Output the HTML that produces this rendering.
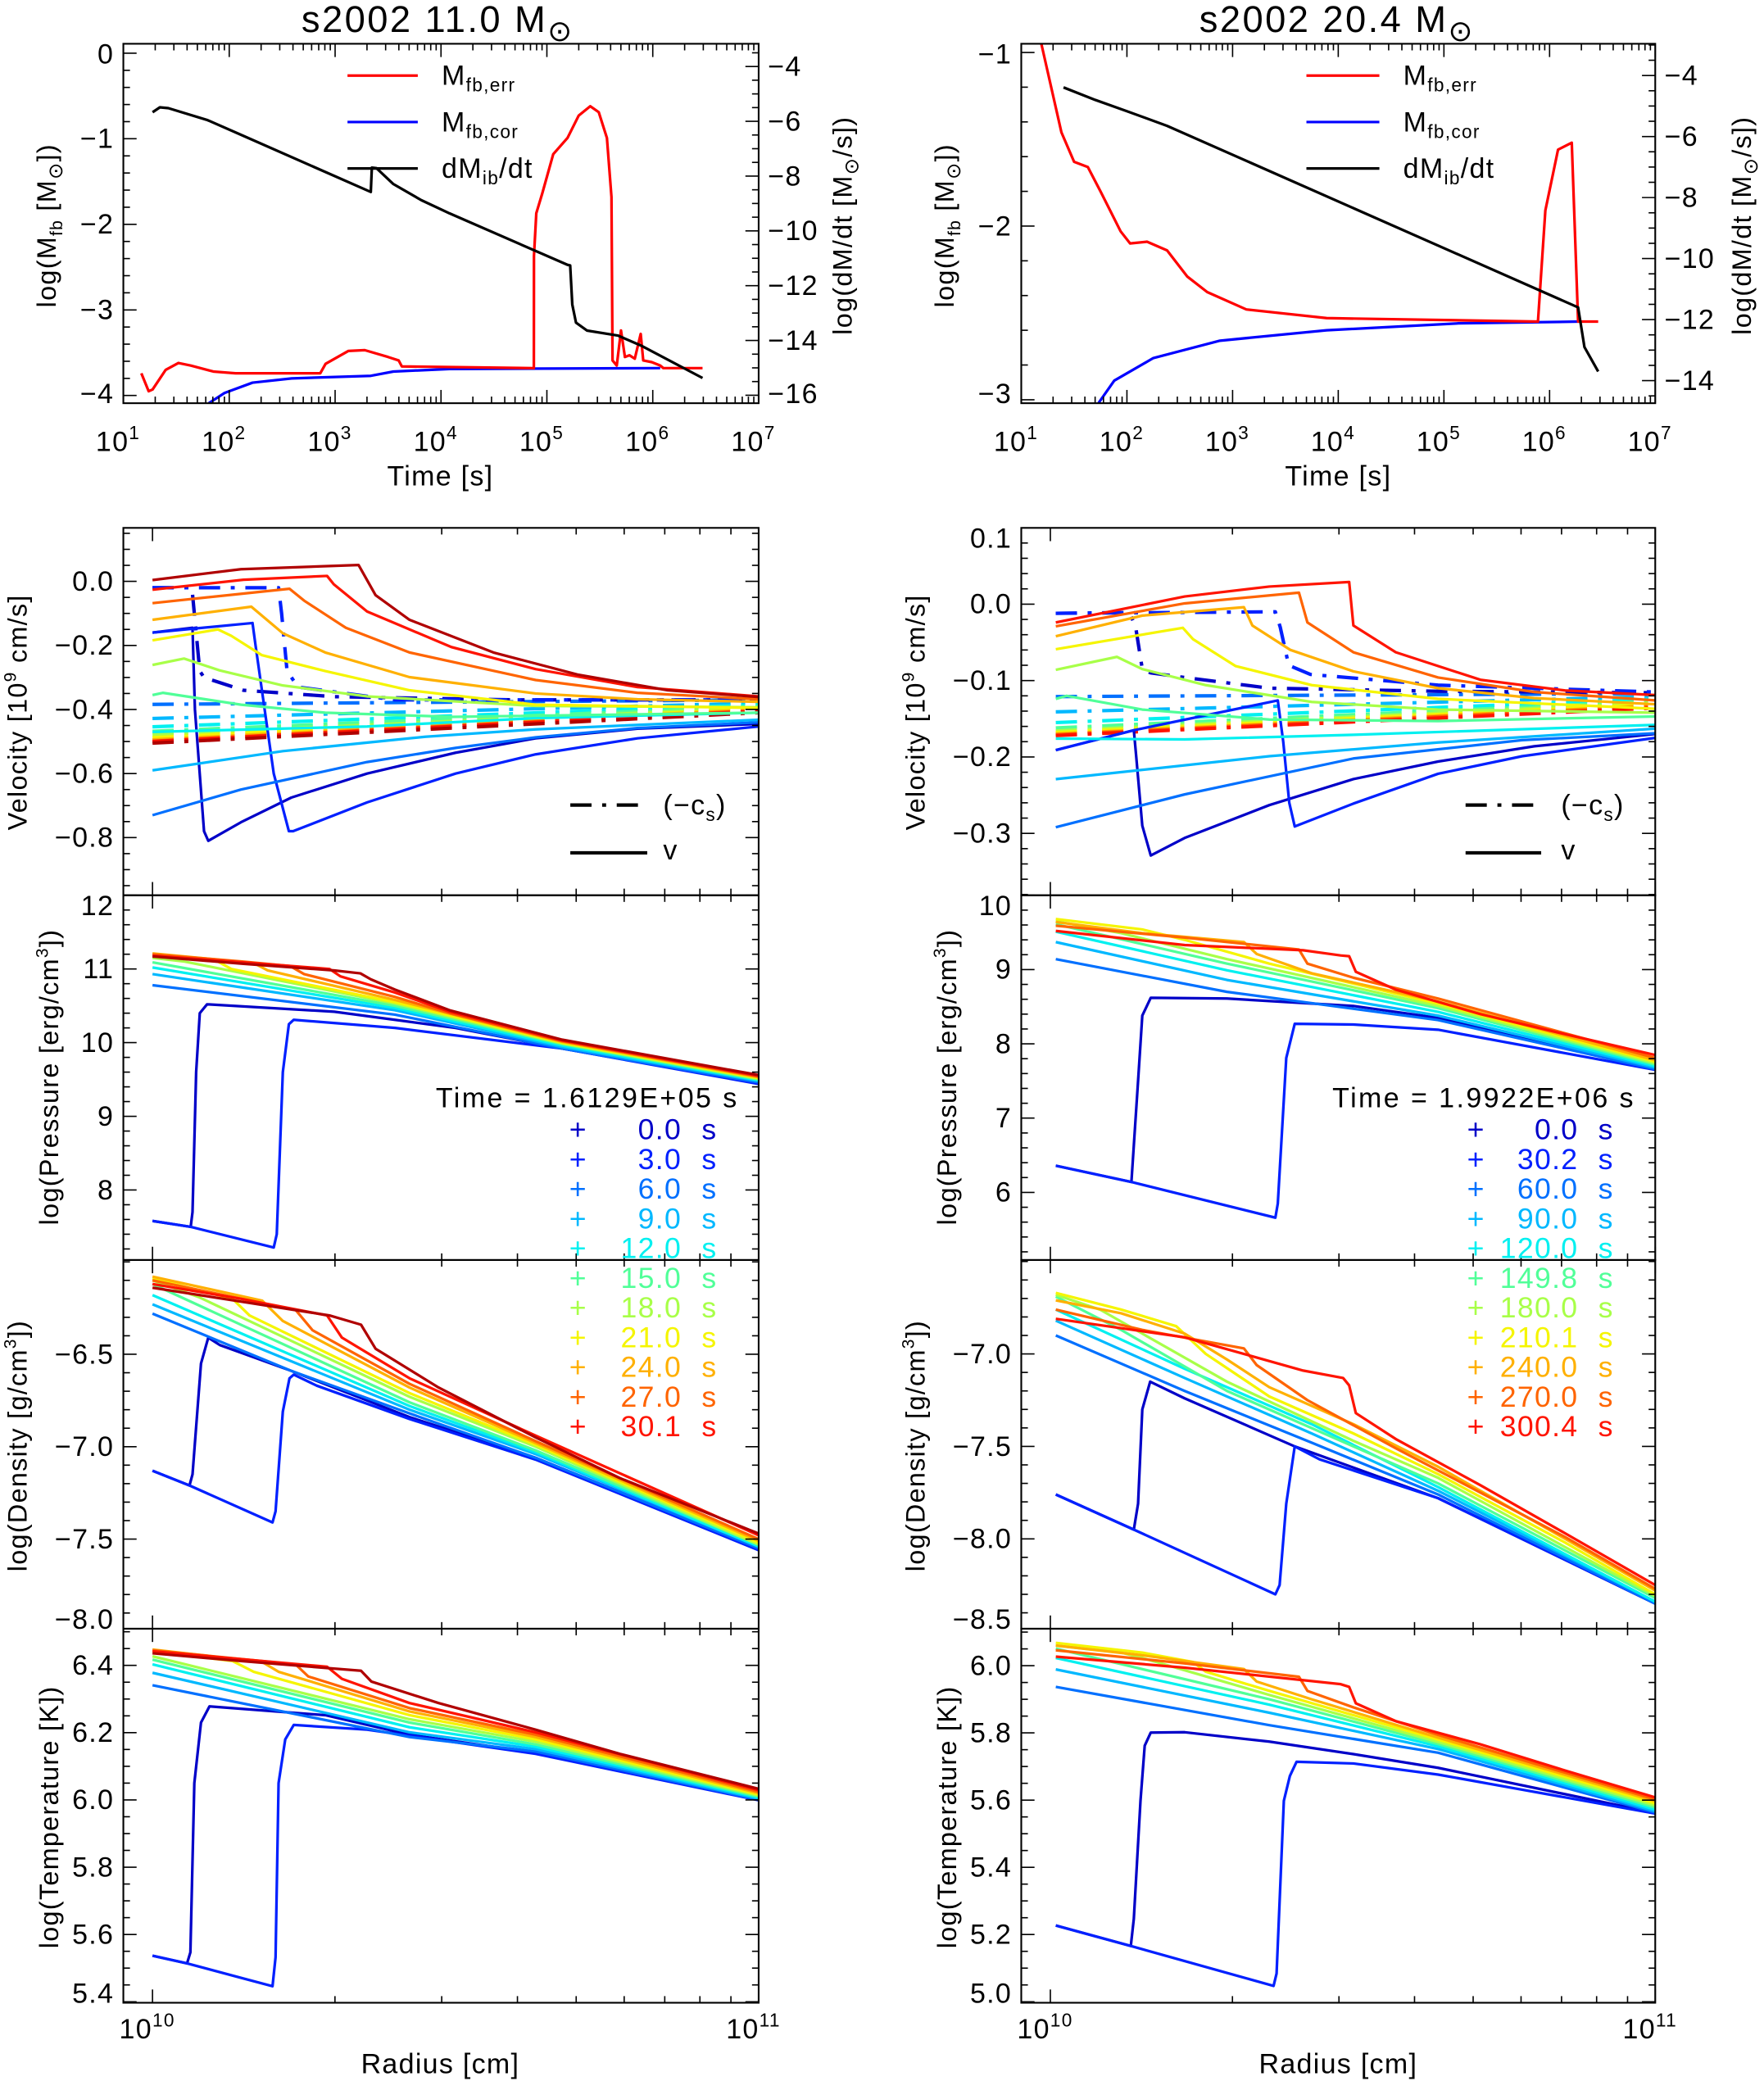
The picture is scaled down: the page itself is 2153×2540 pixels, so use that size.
<!DOCTYPE html>
<html><head><meta charset="utf-8"><style>
html,body{margin:0;padding:0;background:#fff;}
svg{display:block;}
text{font-family:"Liberation Sans","DejaVu Sans",sans-serif;fill:#000;letter-spacing:0.8px;}
</style></head><body>
<svg id="chart" xmlns="http://www.w3.org/2000/svg" width="2153" height="2540" viewBox="0 0 1330 1569" preserveAspectRatio="none">
<rect x="0" y="0" width="1330" height="1569" fill="#fff"/>
<text x="330" y="24" font-size="28" text-anchor="middle" style="letter-spacing:1.5px">s2002  11.0  M<tspan dy="7" font-size="22">⊙</tspan></text>
<text x="1008" y="24" font-size="28" text-anchor="middle" style="letter-spacing:1.5px">s2002  20.4  M<tspan dy="7" font-size="22">⊙</tspan></text>
<text transform="translate(42,170) rotate(-90)" font-size="20" text-anchor="middle">log(M<tspan dy="5" font-size="13">fb</tspan><tspan dy="-5">  [M</tspan><tspan dy="5" font-size="15">⊙</tspan><tspan dy="-5">])</tspan></text>
<text transform="translate(642,170) rotate(-90)" font-size="20" text-anchor="middle">log(dM/dt  [M<tspan dy="5" font-size="15">⊙</tspan><tspan dy="-5">/s])</tspan></text>
<text transform="translate(719,170) rotate(-90)" font-size="20" text-anchor="middle">log(M<tspan dy="5" font-size="13">fb</tspan><tspan dy="-5">  [M</tspan><tspan dy="5" font-size="15">⊙</tspan><tspan dy="-5">])</tspan></text>
<text transform="translate(1320,170) rotate(-90)" font-size="20" text-anchor="middle">log(dM/dt  [M<tspan dy="5" font-size="15">⊙</tspan><tspan dy="-5">/s])</tspan></text>
<text x="332" y="366" font-size="21" text-anchor="middle">Time [s]</text>
<text x="1009" y="366" font-size="21" text-anchor="middle">Time [s]</text>
<text transform="translate(20,537) rotate(-90)" font-size="20" text-anchor="middle">Velocity  [10<tspan dy="-8" font-size="13">9</tspan><tspan dy="8"> cm/s]</tspan></text>
<text transform="translate(697,537) rotate(-90)" font-size="20" text-anchor="middle">Velocity  [10<tspan dy="-8" font-size="13">9</tspan><tspan dy="8"> cm/s]</tspan></text>
<text transform="translate(44,812) rotate(-90)" font-size="20" text-anchor="middle">log(Pressure  [erg/cm<tspan dy="-8" font-size="13">3</tspan><tspan dy="8">])</tspan></text>
<text transform="translate(721,812) rotate(-90)" font-size="20" text-anchor="middle">log(Pressure  [erg/cm<tspan dy="-8" font-size="13">3</tspan><tspan dy="8">])</tspan></text>
<text transform="translate(20,1090) rotate(-90)" font-size="20" text-anchor="middle">log(Density  [g/cm<tspan dy="-8" font-size="13">3</tspan><tspan dy="8">])</tspan></text>
<text transform="translate(697,1090) rotate(-90)" font-size="20" text-anchor="middle">log(Density  [g/cm<tspan dy="-8" font-size="13">3</tspan><tspan dy="8">])</tspan></text>
<text transform="translate(44,1370) rotate(-90)" font-size="20" text-anchor="middle">log(Temperature  [K])</text>
<text transform="translate(721,1370) rotate(-90)" font-size="20" text-anchor="middle">log(Temperature  [K])</text>
<text x="332" y="1563" font-size="21" text-anchor="middle">Radius [cm]</text>
<text x="1009" y="1563" font-size="21" text-anchor="middle">Radius [cm]</text>
<line x1="262" y1="57" x2="315" y2="57" stroke="#ff0000" stroke-width="2"/>
<text x="333" y="64" font-size="21">M<tspan dy="5" font-size="14">fb,err</tspan></text>
<line x1="262" y1="92" x2="315" y2="92" stroke="#0000ff" stroke-width="2"/>
<text x="333" y="99" font-size="21">M<tspan dy="5" font-size="14">fb,cor</tspan></text>
<line x1="262" y1="127" x2="315" y2="127" stroke="#000" stroke-width="2"/>
<text x="333" y="134" font-size="21">dM<tspan dy="5" font-size="14">ib</tspan><tspan dy="-5">/dt</tspan></text>
<line x1="985" y1="57" x2="1040" y2="57" stroke="#ff0000" stroke-width="2"/>
<text x="1058" y="64" font-size="21">M<tspan dy="5" font-size="14">fb,err</tspan></text>
<line x1="985" y1="92" x2="1040" y2="92" stroke="#0000ff" stroke-width="2"/>
<text x="1058" y="99" font-size="21">M<tspan dy="5" font-size="14">fb,cor</tspan></text>
<line x1="985" y1="127" x2="1040" y2="127" stroke="#000" stroke-width="2"/>
<text x="1058" y="134" font-size="21">dM<tspan dy="5" font-size="14">ib</tspan><tspan dy="-5">/dt</tspan></text>
<line x1="430" y1="607" x2="488" y2="607" stroke="#000" stroke-width="2.6" stroke-dasharray="16,8,3,8"/>
<text x="500" y="614" font-size="21">(−c<tspan dy="5" font-size="14">s</tspan><tspan dy="-5">)</tspan></text>
<line x1="430" y1="643" x2="488" y2="643" stroke="#000" stroke-width="2.6"/>
<text x="500" y="648" font-size="21">v</text>
<line x1="1105" y1="607" x2="1162" y2="607" stroke="#000" stroke-width="2.6" stroke-dasharray="16,8,3,8"/>
<text x="1177" y="614" font-size="21">(−c<tspan dy="5" font-size="14">s</tspan><tspan dy="-5">)</tspan></text>
<line x1="1105" y1="643" x2="1162" y2="643" stroke="#000" stroke-width="2.6"/>
<text x="1177" y="648" font-size="21">v</text>
<text x="557" y="835" font-size="21" text-anchor="end" style="letter-spacing:1.5px">Time  =  1.6129E+05  s</text>
<text x="1233" y="835" font-size="21" text-anchor="end" style="letter-spacing:1.5px">Time  =  1.9922E+06  s</text>
</svg>
<script>
const tlErrT=[1.17,1.239,1.276,1.40,1.52,1.637,1.85,2.06,2.86,2.91,3.124,3.28,3.50,3.60,3.63,4.877,4.878,4.90,4.956,5.06,5.195,5.30,5.41,5.49,5.567,5.61,5.62,5.66,5.70,5.737,5.78,5.83,5.886,5.91,5.99,6.07,6.10,6.47];
const tlErrM=[-3.74,-3.95,-3.93,-3.70,-3.62,-3.65,-3.72,-3.74,-3.74,-3.63,-3.48,-3.47,-3.55,-3.59,-3.66,-3.68,-2.37,-1.87,-1.64,-1.18,-0.99,-0.73,-0.62,-0.69,-0.99,-1.68,-3.59,-3.65,-3.24,-3.55,-3.53,-3.57,-3.28,-3.59,-3.61,-3.65,-3.68,-3.68];
const tlCorT=[1.807,1.956,2.22,2.59,3.337,3.55,4.08,6.07];
const tlCorM=[-4.09,-3.97,-3.85,-3.80,-3.77,-3.72,-3.69,-3.68];
const tlRateT=[1.276,1.345,1.425,1.797,2.115,3.337,3.347,3.39,3.55,3.815,4.08,5.195,5.22,5.24,5.275,5.38,5.67,5.886,6.47];
const tlRateV=[-5.67,-5.49,-5.52,-5.96,-6.50,-8.58,-7.69,-7.71,-8.29,-8.88,-9.36,-11.24,-11.26,-12.69,-13.35,-13.64,-13.82,-14.18,-15.37];
const trErrT=[1.19,1.38,1.50,1.63,1.75,1.94,2.03,2.19,2.38,2.57,2.76,3.13,3.89,5.89,5.96,6.08,6.21,6.27,6.46];
const trErrM=[-0.95,-1.46,-1.63,-1.66,-1.80,-2.03,-2.10,-2.09,-2.14,-2.29,-2.38,-2.48,-2.53,-2.55,-1.91,-1.56,-1.52,-2.55,-2.55];
const trCorT=[1.73,1.88,2.25,2.88,3.89,5.14,6.27];
const trCorM=[-3.02,-2.89,-2.76,-2.66,-2.60,-2.56,-2.55];
const trRateT=[1.40,1.7,2.0,2.38,6.27,6.33,6.46];
const trRateV=[-4.39,-4.8,-5.17,-5.65,-11.6,-12.9,-13.7];
const timeDecades=[1,2,3,4,5,6,7];
const tlLeftTicks=[0,-1,-2,-3,-4];
const tlRightTicks=[-4,-6,-8,-10,-12,-14,-16];
const trLeftTicks=[-1,-2,-3];
const trRightTicks=[-4,-6,-8,-10,-12,-14];
const keysL=['J1','J2','B','LB','C','G','YG','Y','OY','O','R','DR'];
const keysR=['J1','J2','B','LB','C','G','YG','Y','OY','O','R'];
const velL=[
 [[0,-0.16],[0.066,-0.145],[0.07,-0.4],[0.085,-0.78],[0.092,-0.81],[0.146,-0.752],[0.229,-0.675],[0.354,-0.6],[0.5,-0.535],[0.632,-0.49],[0.8,-0.46],[1.0,-0.445]],
 [[0,-0.16],[0.165,-0.13],[0.17,-0.2],[0.2,-0.6],[0.225,-0.78],[0.232,-0.78],[0.354,-0.69],[0.5,-0.6],[0.632,-0.54],[0.8,-0.49],[1.0,-0.453]],
 [[0,-0.73],[0.146,-0.65],[0.354,-0.564],[0.5,-0.52],[0.632,-0.487],[0.8,-0.458],[1.0,-0.44]],
 [[0,-0.59],[0.215,-0.53],[0.45,-0.485],[0.632,-0.462],[1.0,-0.432]],
 [[0,-0.47],[0.354,-0.453],[0.632,-0.427],[1.0,-0.41]],
 [[0,-0.355],[0.017,-0.348],[0.146,-0.385],[0.285,-0.41],[0.493,-0.423],[1.0,-0.41]],
 [[0,-0.261],[0.052,-0.241],[0.111,-0.278],[0.215,-0.325],[0.354,-0.359],[0.632,-0.389],[1.0,-0.393]],
 [[0,-0.184],[0.108,-0.15],[0.13,-0.17],[0.18,-0.23],[0.285,-0.28],[0.424,-0.34],[0.632,-0.385],[1.0,-0.395]],
 [[0,-0.12],[0.163,-0.079],[0.215,-0.162],[0.285,-0.222],[0.424,-0.299],[0.632,-0.35],[0.8,-0.368],[1.0,-0.376]],
 [[0,-0.068],[0.226,-0.023],[0.25,-0.06],[0.319,-0.145],[0.424,-0.222],[0.632,-0.308],[0.8,-0.348],[1.0,-0.368]],
 [[0,-0.026],[0.15,0.005],[0.288,0.017],[0.299,-0.009],[0.354,-0.094],[0.493,-0.205],[0.632,-0.274],[0.8,-0.33],[1.0,-0.359]],
 [[0,0.004],[0.146,0.038],[0.34,0.051],[0.368,-0.043],[0.424,-0.12],[0.5625,-0.222],[0.701,-0.291],[0.85,-0.34],[1.0,-0.361]]
];
const velR=[
 [[0.009,-0.191],[0.138,-0.165],[0.142,-0.2],[0.152,-0.29],[0.166,-0.329],[0.222,-0.306],[0.362,-0.263],[0.501,-0.229],[0.641,-0.206],[0.8,-0.186],[1.0,-0.170]],
 [[0.009,-0.191],[0.138,-0.165],[0.376,-0.126],[0.385,-0.18],[0.395,-0.26],[0.404,-0.291],[0.501,-0.261],[0.641,-0.222],[0.78,-0.199],[1.0,-0.175]],
 [[0.009,-0.292],[0.222,-0.249],[0.501,-0.202],[0.78,-0.178],[1.0,-0.169]],
 [[0.009,-0.229],[0.362,-0.199],[0.641,-0.181],[1.0,-0.163]],
 [[0.009,-0.176],[0.222,-0.177],[0.501,-0.171],[1.0,-0.158]],
 [[0.009,-0.124],[0.027,-0.12],[0.152,-0.138],[0.362,-0.151],[0.641,-0.153],[1.0,-0.147]],
 [[0.009,-0.086],[0.11,-0.069],[0.152,-0.085],[0.257,-0.106],[0.432,-0.128],[0.641,-0.138],[1.0,-0.142]],
 [[0.009,-0.059],[0.219,-0.031],[0.236,-0.046],[0.306,-0.081],[0.432,-0.106],[0.641,-0.124],[1.0,-0.137]],
 [[0.009,-0.042],[0.152,-0.015],[0.32,-0.004],[0.334,-0.028],[0.397,-0.06],[0.501,-0.088],[0.641,-0.11],[0.8,-0.123],[1.0,-0.131]],
 [[0.009,-0.029],[0.222,0.001],[0.411,0.015],[0.425,-0.024],[0.501,-0.063],[0.641,-0.096],[0.8,-0.115],[1.0,-0.126]],
 [[0.009,-0.024],[0.222,0.010],[0.362,0.023],[0.494,0.029],[0.501,-0.028],[0.571,-0.063],[0.711,-0.099],[0.851,-0.113],[1.0,-0.119]]
];
const csL1=[[0,-0.02],[0.065,-0.02],[0.07,-0.12],[0.078,-0.28],[0.085,-0.3],[0.15,-0.34],[0.3,-0.36],[0.6,-0.37],[1.0,-0.37]];
const csL2=[[0,-0.02],[0.208,-0.02],[0.213,-0.1],[0.222,-0.28],[0.24,-0.33],[0.4,-0.37],[1.0,-0.37]];
const csR1=[[0.009,-0.012],[0.131,-0.011],[0.141,-0.03],[0.152,-0.085],[0.166,-0.09],[0.222,-0.096],[0.362,-0.11],[0.641,-0.114],[1.0,-0.116]];
const csR2=[[0.009,-0.012],[0.372,-0.01],[0.38,-0.03],[0.394,-0.08],[0.43,-0.092],[0.641,-0.106],[1.0,-0.115]];
const csKeysL=['B','LB','C','G','YG','Y','OY','O','R','DR'];
const csStartL=[-0.384,-0.428,-0.454,-0.468,-0.478,-0.488,-0.495,-0.499,-0.500,-0.505];
const csEndL=[-0.37,-0.38,-0.385,-0.39,-0.395,-0.398,-0.40,-0.403,-0.405,-0.41];
const csKeysR=['B','LB','C','G','YG','Y','OY','O','R'];
const csStartR=[-0.121,-0.141,-0.155,-0.162,-0.166,-0.168,-0.170,-0.171,-0.172];
const csEndR=[-0.117,-0.121,-0.124,-0.127,-0.129,-0.131,-0.133,-0.134,-0.136];
const presL=[
 [[0,7.58],[0.063,7.5],[0.066,7.7],[0.072,9.6],[0.078,10.4],[0.09,10.52],[0.3,10.42],[0.5,10.2],[0.676,9.92],[1.0,9.45]],
 [[0,7.58],[0.063,7.5],[0.20,7.22],[0.205,7.4],[0.215,9.6],[0.225,10.25],[0.233,10.31],[0.4,10.2],[0.676,9.92],[1.0,9.44]],
 [[0,10.78],[0.4,10.38],[0.676,9.92],[1.0,9.46]],
 [[0,10.93],[0.4,10.44],[0.676,9.94],[1.0,9.48]],
 [[0,11.02],[0.4,10.47],[0.676,9.96],[1.0,9.49]],
 [[0,11.09],[0.4,10.5],[0.676,9.98],[1.0,9.50]],
 [[0,11.15],[0.053,11.1],[0.4,10.53],[0.676,9.99],[1.0,9.51]],
 [[0,11.19],[0.108,11.1],[0.13,11.0],[0.4,10.55],[0.676,10.0],[1.0,9.52]],
 [[0,11.21],[0.167,11.08],[0.19,10.98],[0.4,10.58],[0.676,10.01],[1.0,9.53]],
 [[0,11.2],[0.15,11.1],[0.227,11.04],[0.25,10.93],[0.4,10.62],[0.49,10.40],[0.676,10.02],[1.0,9.54]],
 [[0,11.18],[0.15,11.09],[0.292,11.0],[0.31,10.9],[0.4,10.68],[0.49,10.42],[0.676,10.03],[1.0,9.55]],
 [[0,11.17],[0.15,11.07],[0.30,10.98],[0.343,10.94],[0.36,10.86],[0.40,10.72],[0.49,10.44],[0.676,10.04],[1.0,9.56]]
];
const presR=[
 [[0.009,6.36],[0.134,6.14],[0.145,7.50],[0.152,8.38],[0.166,8.62],[0.292,8.61],[0.501,8.51],[0.641,8.35],[1.0,7.66]],
 [[0.009,6.36],[0.134,6.14],[0.372,5.66],[0.376,5.85],[0.390,7.81],[0.404,8.27],[0.501,8.26],[0.641,8.19],[1.0,7.65]],
 [[0.009,9.14],[0.292,8.70],[0.641,8.32],[1.0,7.66]],
 [[0.009,9.37],[0.292,8.86],[0.641,8.38],[1.0,7.68]],
 [[0.009,9.51],[0.292,8.99],[0.641,8.43],[1.0,7.70]],
 [[0.009,9.61],[0.292,9.08],[0.641,8.48],[1.0,7.72]],
 [[0.009,9.65],[0.117,9.49],[0.292,9.14],[0.641,8.51],[1.0,7.74]],
 [[0.009,9.68],[0.152,9.54],[0.222,9.40],[0.362,9.08],[0.641,8.54],[1.0,7.76]],
 [[0.009,9.64],[0.152,9.49],[0.32,9.37],[0.341,9.21],[0.432,8.95],[0.641,8.57],[1.0,7.78]],
 [[0.009,9.59],[0.222,9.43],[0.411,9.27],[0.425,9.08],[0.501,8.89],[0.641,8.61],[1.0,7.81]],
 [[0.009,9.52],[0.222,9.33],[0.418,9.26],[0.48,9.19],[0.494,9.18],[0.505,8.97],[0.571,8.73],[0.711,8.40],[0.851,8.13],[1.0,7.85]]
];
const denL=[
 [[0,-7.13],[0.061,-7.21],[0.066,-7.15],[0.08,-6.55],[0.092,-6.41],[0.111,-6.45],[0.229,-6.59],[0.424,-6.84],[0.632,-7.06],[1.0,-7.55]],
 [[0,-7.13],[0.061,-7.21],[0.198,-7.41],[0.203,-7.35],[0.215,-6.81],[0.226,-6.63],[0.233,-6.61],[0.271,-6.67],[0.424,-6.85],[0.632,-7.07],[1.0,-7.56]],
 [[0,-6.28],[0.229,-6.59],[0.424,-6.82],[0.632,-7.06],[1.0,-7.55]],
 [[0,-6.23],[0.424,-6.80],[0.632,-7.04],[1.0,-7.54]],
 [[0,-6.18],[0.424,-6.78],[0.632,-7.03],[1.0,-7.54]],
 [[0,-6.12],[0.424,-6.76],[0.632,-7.02],[1.0,-7.53]],
 [[0,-6.10],[0.076,-6.19],[0.424,-6.73],[0.632,-7.0],[1.0,-7.53]],
 [[0,-6.09],[0.132,-6.20],[0.16,-6.29],[0.424,-6.71],[0.632,-6.99],[1.0,-7.52]],
 [[0,-6.08],[0.181,-6.21],[0.215,-6.32],[0.424,-6.68],[0.632,-6.98],[1.0,-7.51]],
 [[0,-6.10],[0.236,-6.26],[0.264,-6.37],[0.424,-6.66],[0.632,-6.97],[1.0,-7.50]],
 [[0,-6.12],[0.146,-6.20],[0.288,-6.29],[0.3125,-6.41],[0.424,-6.63],[0.632,-6.94],[1.0,-7.48]],
 [[0,-6.14],[0.146,-6.215],[0.292,-6.29],[0.344,-6.34],[0.368,-6.47],[0.472,-6.68],[0.632,-6.95],[0.771,-7.17],[1.0,-7.47]]
];
const denR=[
 [[0.009,-7.76],[0.138,-7.95],[0.145,-7.81],[0.152,-7.30],[0.165,-7.15],[0.222,-7.24],[0.404,-7.50],[0.641,-7.78],[1.0,-8.35]],
 [[0.009,-7.76],[0.138,-7.95],[0.372,-8.30],[0.379,-8.25],[0.39,-7.81],[0.404,-7.50],[0.445,-7.57],[0.641,-7.78],[1.0,-8.35]],
 [[0.009,-6.90],[0.222,-7.20],[0.432,-7.48],[0.641,-7.76],[1.0,-8.35]],
 [[0.009,-6.82],[0.222,-7.13],[0.432,-7.43],[0.641,-7.74],[1.0,-8.34]],
 [[0.009,-6.76],[0.222,-7.08],[0.432,-7.38],[0.641,-7.72],[1.0,-8.34]],
 [[0.009,-6.69],[0.117,-6.87],[0.292,-7.2],[0.501,-7.50],[0.641,-7.70],[1.0,-8.32]],
 [[0.009,-6.68],[0.082,-6.76],[0.152,-6.89],[0.292,-7.15],[0.501,-7.47],[0.641,-7.67],[1.0,-8.31]],
 [[0.009,-6.67],[0.117,-6.76],[0.208,-6.85],[0.257,-7.0],[0.362,-7.23],[0.501,-7.43],[0.641,-7.65],[0.851,-8.02],[1.0,-8.30]],
 [[0.009,-6.71],[0.117,-6.78],[0.222,-6.89],[0.292,-7.03],[0.362,-7.18],[0.501,-7.38],[0.641,-7.61],[0.851,-8.0],[1.0,-8.28]],
 [[0.009,-6.76],[0.152,-6.87],[0.32,-6.97],[0.341,-7.06],[0.425,-7.25],[0.571,-7.51],[0.711,-7.75],[0.851,-7.99],[1.0,-8.27]],
 [[0.009,-6.81],[0.222,-6.91],[0.418,-7.09],[0.484,-7.13],[0.494,-7.17],[0.505,-7.32],[0.571,-7.46],[0.711,-7.71],[0.851,-7.97],[1.0,-8.25]]
];
const tempL=[
 [[0,5.537],[0.057,5.514],[0.0625,5.547],[0.069,6.05],[0.08,6.23],[0.094,6.278],[0.285,6.252],[0.424,6.194],[0.632,6.14],[1.0,6.0]],
 [[0,5.537],[0.057,5.514],[0.198,5.446],[0.203,5.532],[0.208,6.05],[0.219,6.18],[0.233,6.223],[0.354,6.209],[0.493,6.173],[0.632,6.137],[1.0,5.999]],
 [[0,6.341],[0.424,6.187],[0.632,6.144],[1.0,6.001]],
 [[0,6.378],[0.424,6.201],[0.632,6.151],[1.0,6.004]],
 [[0,6.403],[0.424,6.216],[0.632,6.158],[1.0,6.007]],
 [[0,6.417],[0.424,6.23],[0.632,6.165],[1.0,6.01]],
 [[0,6.427],[0.424,6.24],[0.632,6.173],[1.0,6.013]],
 [[0,6.442],[0.132,6.413],[0.167,6.381],[0.424,6.252],[0.632,6.18],[1.0,6.016]],
 [[0,6.447],[0.181,6.41],[0.208,6.381],[0.424,6.263],[0.632,6.187],[1.0,6.02]],
 [[0,6.445],[0.236,6.403],[0.257,6.367],[0.424,6.273],[0.632,6.194],[1.0,6.024]],
 [[0,6.442],[0.288,6.396],[0.3125,6.36],[0.424,6.288],[0.632,6.201],[1.0,6.029]],
 [[0,6.436],[0.146,6.413],[0.344,6.384],[0.361,6.352],[0.472,6.288],[0.632,6.209],[0.771,6.137],[1.0,6.033]]
];
const tempR=[
 [[0.009,5.227],[0.133,5.166],[0.138,5.247],[0.149,5.598],[0.156,5.762],[0.166,5.801],[0.222,5.802],[0.362,5.774],[0.501,5.737],[0.641,5.696],[1.0,5.562]],
 [[0.009,5.227],[0.133,5.166],[0.369,5.047],[0.374,5.084],[0.386,5.598],[0.396,5.672],[0.407,5.714],[0.501,5.709],[0.641,5.676],[0.78,5.631],[1.0,5.56]],
 [[0.009,5.937],[0.362,5.823],[0.641,5.741],[1.0,5.563]],
 [[0.009,5.989],[0.362,5.86],[0.641,5.752],[1.0,5.567]],
 [[0.009,6.023],[0.362,5.884],[0.641,5.76],[1.0,5.572]],
 [[0.009,6.051],[0.362,5.9],[0.641,5.767],[1.0,5.578]],
 [[0.009,6.06],[0.117,6.039],[0.152,6.023],[0.362,5.913],[0.641,5.773],[1.0,5.584]],
 [[0.009,6.068],[0.152,6.039],[0.236,6.011],[0.257,5.982],[0.362,5.925],[0.641,5.78],[1.0,5.59]],
 [[0.009,6.06],[0.152,6.031],[0.32,5.99],[0.341,5.953],[0.432,5.9],[0.641,5.786],[1.0,5.597]],
 [[0.009,6.046],[0.222,6.007],[0.411,5.967],[0.425,5.925],[0.501,5.876],[0.641,5.794],[1.0,5.602]],
 [[0.009,6.027],[0.222,5.994],[0.48,5.945],[0.494,5.937],[0.505,5.888],[0.571,5.835],[0.711,5.766],[0.851,5.688],[1.0,5.608]]
];
const velLTicks=[0.0,-0.2,-0.4,-0.6,-0.8];
const velRTicks=[0.1,0.0,-0.1,-0.2,-0.3];
const presLTicks=[12,11,10,9,8];
const presRTicks=[10,9,8,7,6];
const denLTicks=[-6.5,-7.0,-7.5,-8.0];
const denRTicks=[-7.0,-7.5,-8.0,-8.5];
const tempLTicks=[6.4,6.2,6.0,5.8,5.6,5.4];
const tempRTicks=[6.0,5.8,5.6,5.4,5.2,5.0];
const legendTimesL=['0.0','3.0','6.0','9.0','12.0','15.0','18.0','21.0','24.0','27.0','30.1'];
const legendTimesR=['0.0','30.2','60.0','90.0','120.0','149.8','180.0','210.1','240.0','270.0','300.4'];
const legendKeys=['J1','J2','B','LB','C','G','YG','Y','OY','O','R'];

const COL={J1:'#0000c8',J2:'#0020ff',B:'#0070ff',LB:'#00b8ff',C:'#00f0f0',G:'#50ff98',YG:'#a8ff48',Y:'#f5f500',OY:'#ffb000',O:'#ff6400',R:'#ff1400',DR:'#b00000'};
const NS='http://www.w3.org/2000/svg';
const svg=document.getElementById('chart');
function mk(tag,attrs,name,parent){
  const el=document.createElementNS(NS,tag);
  for(const k in attrs) el.setAttribute(k,attrs[k]);
  
  
  (parent||svg).appendChild(el);
  return el;
}
function P(x0,x1,y0,y1,xmin,xmax,ymin,ymax){
  return {x0,x1,y0,y1,xmin,xmax,ymin,ymax,
    sx:v=>x0+(v-xmin)/(xmax-xmin)*(x1-x0),
    sy:v=>y1-(v-ymin)/(ymax-ymin)*(y1-y0)};
}
function path(p,pts,color,w,dash,name,g){
  let d='';
  pts.forEach((q,i)=>{d+=(i?'L':'M')+p.sx(q[0]).toFixed(2)+','+p.sy(q[1]).toFixed(2);});
  const a={d:d,fill:'none',stroke:color,'stroke-width':w,'stroke-linejoin':'round'};
  if(dash) a['stroke-dasharray']=dash;
  return mk('path',a,name,g);
}
function zip(xs,ys){return xs.map((x,i)=>[x,ys[i]]);}
function fmt(v,dec){const s=Math.abs(v).toFixed(dec);return (v<0?'−':'')+s;}
function tick(x1,y1,x2,y2,name){mk('line',{x1,y1,x2,y2,stroke:'#000','stroke-width':1},name);}
function yTicks(p,ymin,ymax,majors,minor,side,dec,name,labelSide){
  const sy=v=>p.y1-(v-ymin)/(ymax-ymin)*(p.y1-p.y0);
  const xs=side==='left'?[p.x0]:side==='right'?[p.x1]:[p.x0,p.x1];
  const n0=Math.ceil(ymin/minor-1e-6), n1=Math.floor(ymax/minor+1e-6);
  for(let n=n0;n<=n1;n++){
    const v=n*minor, y=sy(v);
    const isMaj=majors.some(m=>Math.abs(m-v)<1e-6);
    const L=isMaj?10:5;
    xs.forEach(x=>{const dir=x===p.x0?1:-1; tick(x,y,x+dir*L,y,name+'-tick');});
  }
  majors.forEach(m=>{
    let y=sy(m); y=Math.max(p.y0+8,Math.min(p.y1-7,y));
    const ls=labelSide||'left';
    const tx=ls==='left'?p.x0-7:p.x1+7;
    const t=mk('text',{x:tx,y:y+7,'font-size':21,'text-anchor':ls==='left'?'end':'start'},name+'-label');
    t.textContent=fmt(m,dec);
  });
}
function logXTicks(p,decs,labels,labelY,name){
  decs.forEach((d,i)=>{
    const x=p.sx(d);
    tick(x,p.y1,x,p.y1-10,name+'-tick'); tick(x,p.y0,x,p.y0+10,name+'-tick');
    if(i<decs.length-1){for(let k=2;k<=9;k++){const xm=p.sx(d+Math.log10(k));
      tick(xm,p.y1,xm,p.y1-5,name+'-tick'); tick(xm,p.y0,xm,p.y0+5,name+'-tick');}}
    if(labels){
      const t=mk('text',{x:x-4,y:labelY,'font-size':21,'text-anchor':'middle'},name+'-label');
      t.textContent='10';
      const s=document.createElementNS(NS,'tspan');
      s.setAttribute('dy','-9'); s.setAttribute('font-size','14');
      s.textContent=String(labels[i]); t.appendChild(s);
    }
  });
}
function frame(p,name){mk('rect',{x:p.x0,y:p.y0,width:p.x1-p.x0,height:p.y1-p.y0,fill:'none',stroke:'#000','stroke-width':1.3},name);}

const tlL=P(93,572,33,304,1,7,-4.09,0.11), tlR=P(93,572,33,304,1,7,-16.29,-3.17);
const trL=P(770,1248,33,304,1,7,-3.02,-0.95), trR=P(770,1248,33,304,1,7,-14.74,-2.96);
const clipDefs=mk('defs',{},'clip-defs');
function clip(id,p){const c=mk('clipPath',{id:id},'clip-'+id,clipDefs);mk('rect',{x:p.x0,y:p.y0,width:p.x1-p.x0,height:p.y1-p.y0},'clip-rect',c);return 'url(#'+id+')';}
const gTL=mk('g',{'clip-path':clip('ctl',tlL)},'plot-area-fallback-11');
path(tlL,zip(tlCorT,tlCorM),'#0000ff',2,null,'line-mfb-cor-11',gTL);
path(tlL,zip(tlErrT,tlErrM),'#ff0000',2,null,'line-mfb-err-11',gTL);
path(tlR,zip(tlRateT,tlRateV),'#000',2,null,'line-dmdt-11',gTL);
const gTR=mk('g',{'clip-path':clip('ctr',trL)},'plot-area-fallback-20');
path(trL,zip(trCorT,trCorM),'#0000ff',2,null,'line-mfb-cor-20',gTR);
path(trL,zip(trErrT,trErrM),'#ff0000',2,null,'line-mfb-err-20',gTR);
path(trR,zip(trRateT,trRateV),'#000',2,null,'line-dmdt-20',gTR);
frame(tlL,'frame-fallback-11'); frame(trL,'frame-fallback-20');
yTicks(tlL,-4.09,0.11,tlLeftTicks,0.2,'left',0,'y-axis-mfb-11','left');
yTicks(tlL,-16.29,-3.17,tlRightTicks,0.5,'right',0,'y-axis-rate-11','right');
yTicks(trL,-3.02,-0.95,trLeftTicks,0.2,'left',0,'y-axis-mfb-20','left');
yTicks(trL,-14.74,-2.96,trRightTicks,0.5,'right',0,'y-axis-rate-20','right');
logXTicks(tlL,timeDecades,timeDecades,340,'x-axis-time-11');
logXTicks(trL,timeDecades,timeDecades,340,'x-axis-time-20');

const XMIN=-0.0481;
const rows=[
 {y0:398,y1:675,L:[-0.98,0.167],R:[-0.381,0.0998],dL:velL,dR:velR,tL:velLTicks,tR:velRTicks,mL:0.05,mR:0.02,dec:1,name:'velocity'},
 {y0:675,y1:950,L:[7.05,12.0],R:[5.09,10.0],dL:presL,dR:presR,tL:presLTicks,tR:presRTicks,mL:0.2,mR:0.2,dec:0,name:'pressure'},
 {y0:950,y1:1228,L:[-7.985,-5.99],R:[-8.486,-6.492],dL:denL,dR:denR,tL:denLTicks,tR:denRTicks,mL:0.1,mR:0.1,dec:1,name:'density'},
 {y0:1228,y1:1510,L:[5.397,6.509],R:[4.997,6.11],dL:tempL,dR:tempR,tL:tempLTicks,tR:tempRTicks,mL:0.05,mR:0.05,dec:1,name:'temperature'}
];
rows.forEach((r,ri)=>{
  const pl=P(93,572,r.y0,r.y1,XMIN,1.0,r.L[0],r.L[1]);
  const pr=P(770,1248,r.y0,r.y1,XMIN,1.0,r.R[0],r.R[1]);
  const gl=mk('g',{'clip-path':clip('cl'+ri,pl)},'plot-area-'+r.name+'-11');
  const gr=mk('g',{'clip-path':clip('cr'+ri,pr)},'plot-area-'+r.name+'-20');
  if(r.name==='velocity'){
    csKeysL.forEach((k,i)=>path(pl,[[0,csStartL[i]],[1.0,csEndL[i]]],COL[k],2.6,'16,8,3,8','cs-line-'+k,gl));
    path(pl,csL1,COL.J1,2.6,'16,8,3,8','cs-line-J1',gl);
    path(pl,csL2,COL.J2,2.6,'16,8,3,8','cs-line-J2',gl);
    csKeysR.forEach((k,i)=>path(pr,[[0.009,csStartR[i]],[1.0,csEndR[i]]],COL[k],2.6,'16,8,3,8','cs-line-'+k,gr));
    path(pr,csR1,COL.J1,2.6,'16,8,3,8','cs-line-J1',gr);
    path(pr,csR2,COL.J2,2.6,'16,8,3,8','cs-line-J2',gr);
  }
  r.dL.forEach((pts,i)=>path(pl,pts,COL[keysL[i]],2.0,null,r.name+'-profile-'+keysL[i],gl));
  r.dR.forEach((pts,i)=>path(pr,pts,COL[keysR[i]],2.0,null,r.name+'-profile-'+keysR[i],gr));
  frame(pl,'frame-'+r.name+'-11'); frame(pr,'frame-'+r.name+'-20');
  yTicks(pl,r.L[0],r.L[1],r.tL,r.mL,'both',r.dec,'y-axis-'+r.name+'-11','left');
  yTicks(pr,r.R[0],r.R[1],r.tR,r.mR,'both',r.dec,'y-axis-'+r.name+'-20','left');
  const last=ri===rows.length-1;
  logXTicks(pl,[0,1],last?[10,11]:null,1537,'x-axis-radius-11');
  logXTicks(pr,[0,1],last?[10,11]:null,1537,'x-axis-radius-20');
});

legendTimesL.forEach((t,i)=>{
  const y=859+i*22.4, c=COL[legendKeys[i]];
  const a=mk('text',{x:436,y:y,'font-size':22,'text-anchor':'middle',style:'fill:'+c},'legend-marker-'+t);
  a.textContent='+';
  const b=mk('text',{x:514,y:y,'font-size':22,'text-anchor':'end',style:'fill:'+c},'legend-time-'+t);
  b.textContent=t;
  const s=mk('text',{x:529,y:y,'font-size':22,style:'fill:'+c},'legend-unit');
  s.textContent='s';
});
legendTimesR.forEach((t,i)=>{
  const y=859+i*22.4, c=COL[legendKeys[i]];
  const a=mk('text',{x:1113,y:y,'font-size':22,'text-anchor':'middle',style:'fill:'+c},'legend-marker-'+t);
  a.textContent='+';
  const b=mk('text',{x:1190,y:y,'font-size':22,'text-anchor':'end',style:'fill:'+c},'legend-time-'+t);
  b.textContent=t;
  const s=mk('text',{x:1205,y:y,'font-size':22,style:'fill:'+c},'legend-unit');
  s.textContent='s';
});
</script>
</body></html>
